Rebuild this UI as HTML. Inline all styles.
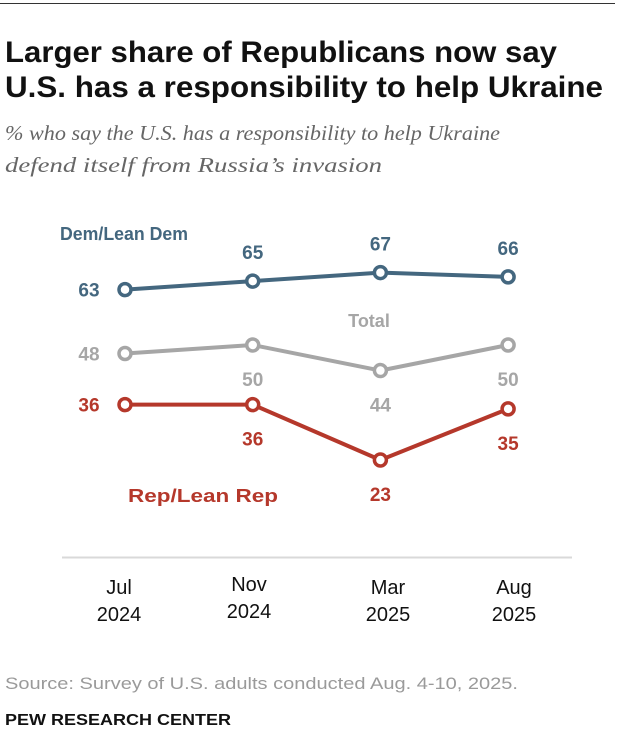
<!DOCTYPE html>
<html><head><meta charset="utf-8"><style>
html,body{margin:0;padding:0;background:#fff;width:620px;height:734px;overflow:hidden}
svg{display:block;font-family:"Liberation Sans",sans-serif}
</style></head><body>
<svg id="chart" width="620" height="734" viewBox="0 0 620 734">
<line x1="0" y1="3.5" x2="615" y2="3.5" stroke="#333" stroke-width="1"/>
<text x="5" y="62" font-size="30" font-weight="bold" fill="#111" textLength="552" lengthAdjust="spacingAndGlyphs">Larger share of Republicans now say</text>
<text x="5" y="97" font-size="30" font-weight="bold" fill="#111" textLength="598" lengthAdjust="spacingAndGlyphs">U.S. has a responsibility to help Ukraine</text>
<text x="5" y="140" font-size="21" font-style="italic" fill="#666" font-family="Liberation Serif,serif" textLength="495" lengthAdjust="spacingAndGlyphs">% who say the U.S. has a responsibility to help Ukraine</text>
<text x="5" y="172" font-size="21" font-style="italic" fill="#666" font-family="Liberation Serif,serif" textLength="377" lengthAdjust="spacingAndGlyphs">defend itself from Russia’s invasion</text>
<line x1="62" y1="557.5" x2="572" y2="557.5" stroke="#d9d9d9" stroke-width="2"/>
<g id="plot"></g>
<text x="5" y="689" font-size="16.5" fill="#9a9a9a" textLength="513" lengthAdjust="spacingAndGlyphs">Source: Survey of U.S. adults conducted Aug. 4-10, 2025.</text>
<text x="5" y="725" font-size="16" font-weight="bold" fill="#111" textLength="226" lengthAdjust="spacingAndGlyphs">PEW RESEARCH CENTER</text>
</svg>
<script>
const months = ["Jul", "Nov", "Mar", "Aug"];
const years = ["2024", "2024", "2025", "2025"];
const dem = [63, 65, 67, 66];
const total = [48, 50, 44, 50];
const rep = [36, 36, 23, 35];

const NS = "http://www.w3.org/2000/svg";
const plot = document.getElementById("plot");
function xPos(i){ return 125 + i * 127.7; }
function yPos(v){ return 558 - v * 4.26; }
function mk(tag, attrs, parent){
  const e = document.createElementNS(NS, tag);
  for (const k in attrs) e.setAttribute(k, attrs[k]);
  (parent || plot).appendChild(e);
  return e;
}
function txt(x, y, s, color, anchor, size){
  const t = mk("text", {x:x, y:y, fill:color, "font-size":size||19, "font-weight":"bold", "text-anchor":anchor||"middle"});
  t.textContent = s;
  return t;
}
const series = [
  {name:"dem", vals:dem, color:"#44677f", pos:["left","above","above","above"]},
  {name:"total", vals:total, color:"#a6a6a6", pos:["left","below","below","below"]},
  {name:"rep", vals:rep, color:"#b5382b", pos:["left","below","below","below"]}
];
series.forEach(s => {
  const pts = s.vals.map((v,i) => xPos(i) + "," + yPos(v)).join(" ");
  const line = mk("polyline", {points:pts, fill:"none", stroke:s.color, "stroke-width":4, "stroke-linejoin":"round"});
  
  
  s.vals.forEach((v,i) => {
    const c = mk("circle", {cx:xPos(i), cy:yPos(v), r:6, fill:"#fff", stroke:s.color, "stroke-width":3.5});
    
    
    let lx = xPos(i), ly;
    if (s.pos[i] === "left"){ lx = xPos(i) - 36; ly = yPos(v) + 7; }
    else if (s.pos[i] === "above"){ ly = yPos(v) - 22; }
    else { ly = yPos(v) + 41; }
    const t = txt(lx, ly, String(v), s.color);
    
    
  });
});
const l1 = txt(60, 240, "Dem/Lean Dem", "#44677f", "start", 18);
l1.setAttribute("textLength", "128");
l1.setAttribute("lengthAdjust", "spacingAndGlyphs");


const l2 = txt(369, 327, "Total", "#a6a6a6", "middle", 18);


const l3 = txt(128, 502, "Rep/Lean Rep", "#b5382b", "start", 18);
l3.setAttribute("textLength", "150");
l3.setAttribute("lengthAdjust", "spacingAndGlyphs");


const xc = [119, 249, 388, 514];
months.forEach((m,i) => {
  const dy = (i === 1) ? -3 : 0;
  const t1 = mk("text", {x:xc[i], y:594+dy, "font-size":20, fill:"#111", "text-anchor":"middle"});
  t1.textContent = m;
  
  
  const t2 = mk("text", {x:xc[i], y:621+dy, "font-size":20, fill:"#111", "text-anchor":"middle"});
  t2.textContent = years[i];
  
  
});
</script>
</body></html>
